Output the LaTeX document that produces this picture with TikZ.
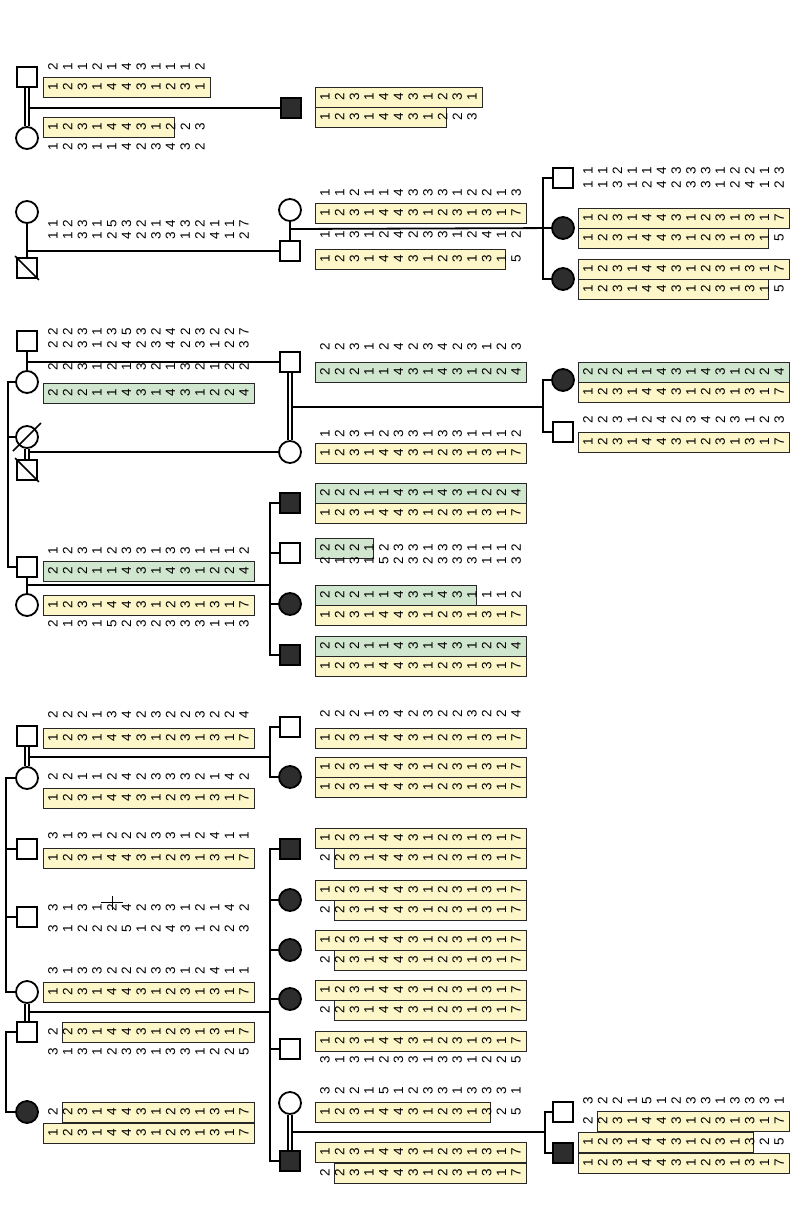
\documentclass[tikz,border=0pt]{standalone}
\usepackage{fontspec}
\setmainfont{Liberation Sans}
\usetikzlibrary{calc}
\definecolor{hy}{RGB}{253,246,200}
\definecolor{hg}{RGB}{208,230,206}
\definecolor{af}{RGB}{45,45,45}
\newcommand\PP{14.7}
\newcommand\dg[3]{\foreach \d [count=\i from 0] in {#3} {\node[dig] at ({#1+\i*\PP},#2) {\d};}}
\newcommand\fb[4]{\draw[#1] ({#2-10},{#3-10}) rectangle ({#2+(#4-1)*\PP+10},{#3+10});}
\newcommand\pb[4]{\draw[#1] ({#2-10},{#3-10}) rectangle ({#2+(#4-1)*\PP+4},{#3+10});}
\newcommand\sbx[3]{\draw[#1] ({#2+\PP-5},{#3-10}) rectangle ({#2+13*\PP+10},{#3+10});}
\begin{document}
\begin{tikzpicture}[x=1pt,y=-1pt,
  dig/.style={rotate=90,inner sep=0pt,font=\fontsize{13.5}{13.5}\selectfont},
  boxy/.style={draw=black!85,line width=0.8pt,fill=hy},
  boxg/.style={draw=black!85,line width=0.8pt,fill=hg},
  sq/.style={rectangle,draw,line width=1.8pt,fill=white,minimum size=20pt,inner sep=0pt},
  ci/.style={circle,draw,line width=1.8pt,fill=white,minimum size=22pt,inner sep=0pt},
  aff/.style={fill=af},
  ln/.style={line width=1.8pt},
  dl/.style={double=white,double distance=2.6pt,line width=1.3pt},
  sl/.style={line width=1.5pt}]
\useasboundingbox (0,0) rectangle (793,1205);
\fill[white] (0,0) rectangle (793,1205);

% ===== Section 1 =====
\node[sq] (s1a) at (27,77) {};
\node[ci] (s1b) at (27,138) {};
\node[sq,aff] (s1c) at (291,108) {};
\draw[ln] (s1a |- s1c) -- (s1c);
\draw[dl] (s1a) -- (s1b);
\dg{53}{67}{2,1,1,2,1,4,3,1,1,1,2}
\fb{boxy}{53}{87}{11}
\dg{53}{87}{1,2,3,1,4,4,3,1,2,3,1}
\pb{boxy}{53}{127}{9}
\dg{53}{127}{1,2,3,1,4,4,3,1,2,2,3}
\dg{53}{147}{1,2,3,1,1,4,2,3,4,3,2}
\fb{boxy}{325}{97}{11}
\dg{325}{97}{1,2,3,1,4,4,3,1,2,3,1}
\pb{boxy}{325}{117}{9}
\dg{325}{117}{1,2,3,1,4,4,3,1,2,2,3}

% ===== Section 2 =====
\node[ci] (L2a) at (27,212) {};
\node[sq] (L2b) at (27,268) {};
\draw[sl] ($(L2b.north west)+(-1,-1)$) -- ($(L2b.south east)+(1,1)$);
\node[ci] (R2a) at (290,210) {};
\node[sq] (R2b) at (290,251) {};
\draw[ln] (L2a) -- (L2b);
\draw[ln] (L2a |- R2b) -- (R2b);
\draw[ln] (R2a) -- (R2b);
\dg{53}{224}{1,2,3,1,5,3,2,1,4,3,2,1,1,7}
\dg{53}{236}{1,1,3,1,2,4,2,3,3,1,2,4,1,2}
\dg{325}{193}{1,1,2,1,1,4,3,3,3,1,2,2,1,3}
\fb{boxy}{325}{213}{14}
\dg{325}{213}{1,2,3,1,4,4,3,1,2,3,1,3,1,7}
\dg{325}{235}{1,1,3,1,2,4,2,3,3,1,2,4,1,2}
\pb{boxy}{325}{259}{13}
\dg{325}{259}{1,2,3,1,4,4,3,1,2,3,1,3,1,5}
\node[sq] (c2a) at (563,178) {};
\node[ci,aff] (c2b) at (563,228) {};
\node[ci,aff] (c2c) at (563,279) {};
\coordinate (k2) at (543,229);
\draw[ln] (R2a |- k2) -- (c2b);
\draw[ln] (c2a) -| (k2 |- c2c) -- (c2c);
\dg{588}{171}{1,1,2,1,1,4,3,3,3,1,2,2,1,3}
\dg{588}{185}{1,1,3,1,2,4,2,3,3,1,2,4,1,2}
\fb{boxy}{588}{218}{14}
\dg{588}{218}{1,2,3,1,4,4,3,1,2,3,1,3,1,7}
\pb{boxy}{588}{238}{13}
\dg{588}{238}{1,2,3,1,4,4,3,1,2,3,1,3,1,5}
\fb{boxy}{588}{269}{14}
\dg{588}{269}{1,2,3,1,4,4,3,1,2,3,1,3,1,7}
\pb{boxy}{588}{289}{13}
\dg{588}{289}{1,2,3,1,4,4,3,1,2,3,1,3,1,5}

% ===== Section 3 (upper) =====
\node[sq] (A3a) at (27,341) {};
\node[ci] (A3b) at (27,382) {};
\node[ci] (D3a) at (27,437) {};
\draw[sl] ($(D3a)+(-14,14)$) -- ($(D3a)+(14,-14)$);
\node[sq] (D3b) at (27,470) {};
\draw[sl] ($(D3b.north west)+(-1,-1)$) -- ($(D3b.south east)+(1,1)$);
\node[sq] (G3a) at (290,362) {};
\node[ci] (G3b) at (290,452) {};
\draw[ln] (A3a) -- (A3b);
\draw[ln] (A3a |- G3a) -- (G3a);
\draw[ln] (D3a |- G3b) -- (G3b);
\draw[dl] (D3a) -- (D3b);
\coordinate (j3) at (543,407);
\draw[ln] (G3a |- j3) -- (j3);
\draw[dl] (G3a) -- (G3b);
\coordinate (kL3) at (8,0);
\node[sq] (B3a) at (27,567) {};
\node[ci] (B3b) at (27,605) {};
\draw[ln] (A3b) -| (kL3 |- B3a) -- (B3a);
\draw[ln] (D3a) -- (kL3 |- D3a);
\dg{53}{332}{2,2,3,1,3,5,3,2,4,2,3,2,2,7}
\dg{53}{345}{2,2,3,1,2,4,2,3,4,2,3,1,2,3}
\dg{53}{367}{2,2,3,1,2,1,3,2,1,3,2,1,2,2}
\fb{boxg}{53}{393}{14}
\dg{53}{393}{2,2,2,1,1,4,3,1,4,3,1,2,2,4}
\dg{325}{347}{2,2,3,1,2,4,2,3,4,2,3,1,2,3}
\fb{boxg}{325}{372}{14}
\dg{325}{372}{2,2,2,1,1,4,3,1,4,3,1,2,2,4}
\dg{325}{434}{1,2,3,1,2,3,3,1,3,3,1,1,1,2}
\fb{boxy}{325}{453}{14}
\dg{325}{453}{1,2,3,1,4,4,3,1,2,3,1,3,1,7}
\node[ci,aff] (c3a) at (563,380) {};
\node[sq] (c3b) at (563,432) {};
\draw[ln] (c3a) -| (j3 |- c3b) -- (c3b);
\fb{boxg}{588}{372}{14}
\dg{588}{372}{2,2,2,1,1,4,3,1,4,3,1,2,2,4}
\fb{boxy}{588}{392}{14}
\dg{588}{392}{1,2,3,1,4,4,3,1,2,3,1,3,1,7}
\dg{588}{420}{2,2,3,1,2,4,2,3,4,2,3,1,2,3}
\fb{boxy}{588}{442}{14}
\dg{588}{442}{1,2,3,1,4,4,3,1,2,3,1,3,1,7}

% ===== Section 3 (lower) =====
\draw[ln] (B3a) -- (B3b);
\coordinate (j3b) at (270,585);
\draw[ln] (B3a |- j3b) -- (j3b);
\node[sq,aff] (d1) at (290,503) {};
\node[sq] (d2) at (290,553) {};
\node[ci,aff] (d3) at (290,604) {};
\node[sq,aff] (d4) at (290,655) {};
\draw[ln] (d1) -| (j3b |- d4) -- (d4);
\draw[ln] (d2) -- (j3b |- d2);
\draw[ln] (d3) -- (j3b |- d3);
\dg{53}{551}{1,2,3,1,2,3,3,1,3,3,1,1,1,2}
\fb{boxg}{53}{571}{14}
\dg{53}{571}{2,2,2,1,1,4,3,1,4,3,1,2,2,4}
\fb{boxy}{53}{605}{14}
\dg{53}{605}{1,2,3,1,4,4,3,1,2,3,1,3,1,7}
\dg{53}{624}{2,1,3,1,5,2,3,2,3,3,3,1,1,3}
\fb{boxg}{325}{493}{14}
\dg{325}{493}{2,2,2,1,1,4,3,1,4,3,1,2,2,4}
\fb{boxy}{325}{513}{14}
\dg{325}{513}{1,2,3,1,4,4,3,1,2,3,1,3,1,7}
\pb{boxg}{325}{548}{4}
\dg{325}{548}{2,2,2,1,2,3,3,1,3,3,1,1,1,2}
\dg{325}{561}{2,1,3,1,5,2,3,2,3,3,3,1,1,3}
\pb{boxg}{325}{595}{11}
\dg{325}{595}{2,2,2,1,1,4,3,1,4,3,1,1,1,2}
\fb{boxy}{325}{615}{14}
\dg{325}{615}{1,2,3,1,4,4,3,1,2,3,1,3,1,7}
\fb{boxg}{325}{646}{14}
\dg{325}{646}{2,2,2,1,1,4,3,1,4,3,1,2,2,4}
\fb{boxy}{325}{666}{14}
\dg{325}{666}{1,2,3,1,4,4,3,1,2,3,1,3,1,7}

% ===== Section 4 =====
\node[sq] (E4a) at (27,736) {};
\node[ci] (E4b) at (27,778) {};
\coordinate (j4a) at (270,757);
\draw[ln] (E4a |- j4a) -- (j4a);
\draw[dl] (E4a) -- (E4b);
\node[sq] (e1) at (290,727) {};
\node[ci,aff] (e2) at (290,777) {};
\draw[ln] (e1) -| (j4a |- e2) -- (e2);
\dg{53}{715}{2,2,2,1,3,4,2,3,2,2,3,2,2,4}
\fb{boxy}{53}{738}{14}
\dg{53}{738}{1,2,3,1,4,4,3,1,2,3,1,3,1,7}
\dg{53}{777}{2,2,1,1,2,4,2,3,3,3,2,1,4,2}
\fb{boxy}{53}{798}{14}
\dg{53}{798}{1,2,3,1,4,4,3,1,2,3,1,3,1,7}
\dg{325}{714}{2,2,2,1,3,4,2,3,2,2,3,2,2,4}
\fb{boxy}{325}{738}{14}
\dg{325}{738}{1,2,3,1,4,4,3,1,2,3,1,3,1,7}
\fb{boxy}{325}{767}{14}
\dg{325}{767}{1,2,3,1,4,4,3,1,2,3,1,3,1,7}
\fb{boxy}{325}{787}{14}
\dg{325}{787}{1,2,3,1,4,4,3,1,2,3,1,3,1,7}

\coordinate (kL4) at (6,0);
\node[sq] (F1) at (27,849) {};
\node[sq] (F2) at (27,917) {};
\node[ci] (F4a) at (27,992) {};
\node[sq] (F4b) at (27,1032) {};
\node[ci,aff] (F5) at (27,1112) {};
\draw[ln] (E4b) -| (kL4 |- F4a) -- (F4a);
\draw[ln] (F1) -- (kL4 |- F1);
\draw[ln] (F2) -- (kL4 |- F2);
\draw[ln] (F4b) -| (kL4 |- F5) -- (F5);
\coordinate (j4b) at (270,1012);
\draw[ln] (F4a |- j4b) -- (j4b);
\draw[dl] (F4a) -- (F4b);
\dg{53}{836}{3,1,3,1,2,2,2,3,3,1,2,4,1,1}
\fb{boxy}{53}{858}{14}
\dg{53}{858}{1,2,3,1,4,4,3,1,2,3,1,3,1,7}
\dg{53}{908}{3,1,3,1,2,4,2,3,3,1,2,1,4,2}
\dg{53}{929}{3,1,2,2,2,5,1,2,4,3,1,2,2,3}
\draw[line width=0.9pt] (101,902) -- (123,902);
\draw[line width=0.9pt] (112,896) -- (112,910);
\dg{53}{971}{3,1,3,3,2,2,2,3,3,1,2,4,1,1}
\fb{boxy}{53}{992}{14}
\dg{53}{992}{1,2,3,1,4,4,3,1,2,3,1,3,1,7}
\sbx{boxy}{53}{1032}
\dg{53}{1032}{2,2,3,1,4,4,3,1,2,3,1,3,1,7}
\dg{53}{1052}{3,1,3,1,2,3,3,1,3,3,1,2,2,5}
\sbx{boxy}{53}{1112}
\dg{53}{1112}{2,2,3,1,4,4,3,1,2,3,1,3,1,7}
\fb{boxy}{53}{1133}{14}
\dg{53}{1133}{1,2,3,1,4,4,3,1,2,3,1,3,1,7}

\node[sq,aff] (g1) at (290,849) {};
\node[ci,aff] (g2) at (290,900) {};
\node[ci,aff] (g3) at (290,950) {};
\node[ci,aff] (g4) at (290,999) {};
\node[sq] (g5) at (290,1049) {};
\node[ci] (h) at (290,1103) {};
\node[sq,aff] (g6) at (290,1161) {};
\draw[ln] (g1) -| (j4b |- g6) -- (g6);
\draw[ln] (g2) -- (j4b |- g2);
\draw[ln] (g3) -- (j4b |- g3);
\draw[ln] (g4) -- (j4b |- g4);
\draw[ln] (g5) -- (j4b |- g5);
\coordinate (j4c) at (545,1132);
\draw[ln] (h |- j4c) -- (j4c);
\draw[dl] (h) -- (g6);
\node[sq] (i1) at (563,1112) {};
\node[sq,aff] (i2) at (563,1153) {};
\draw[ln] (i1) -| (j4c |- i2) -- (i2);

\foreach \yy in {838,890,940,990} {\fb{boxy}{325}{\yy}{14}\dg{325}{\yy}{1,2,3,1,4,4,3,1,2,3,1,3,1,7}}
\foreach \yy in {858,910,960,1010} {\sbx{boxy}{325}{\yy}\dg{325}{\yy}{2,2,3,1,4,4,3,1,2,3,1,3,1,7}}
\fb{boxy}{325}{1041}{14}
\dg{325}{1041}{1,2,3,1,4,4,3,1,2,3,1,3,1,7}
\dg{325}{1060}{3,1,3,1,2,3,3,1,3,3,1,2,2,5}
\dg{325}{1091}{3,2,2,1,5,1,2,3,3,1,3,3,3,1}
\pb{boxy}{325}{1112}{12}
\dg{325}{1112}{1,2,3,1,4,4,3,1,2,3,1,3,2,5}
\fb{boxy}{325}{1152}{14}
\dg{325}{1152}{1,2,3,1,4,4,3,1,2,3,1,3,1,7}
\sbx{boxy}{325}{1173}
\dg{325}{1173}{2,2,3,1,4,4,3,1,2,3,1,3,1,7}
\dg{588}{1101}{3,2,2,1,5,1,2,3,3,1,3,3,3,1}
\sbx{boxy}{588}{1121}
\dg{588}{1121}{2,2,3,1,4,4,3,1,2,3,1,3,1,7}
\pb{boxy}{588}{1142}{12}
\dg{588}{1142}{1,2,3,1,4,4,3,1,2,3,1,3,2,5}
\fb{boxy}{588}{1163}{14}
\dg{588}{1163}{1,2,3,1,4,4,3,1,2,3,1,3,1,7}
\end{tikzpicture}
\end{document}
